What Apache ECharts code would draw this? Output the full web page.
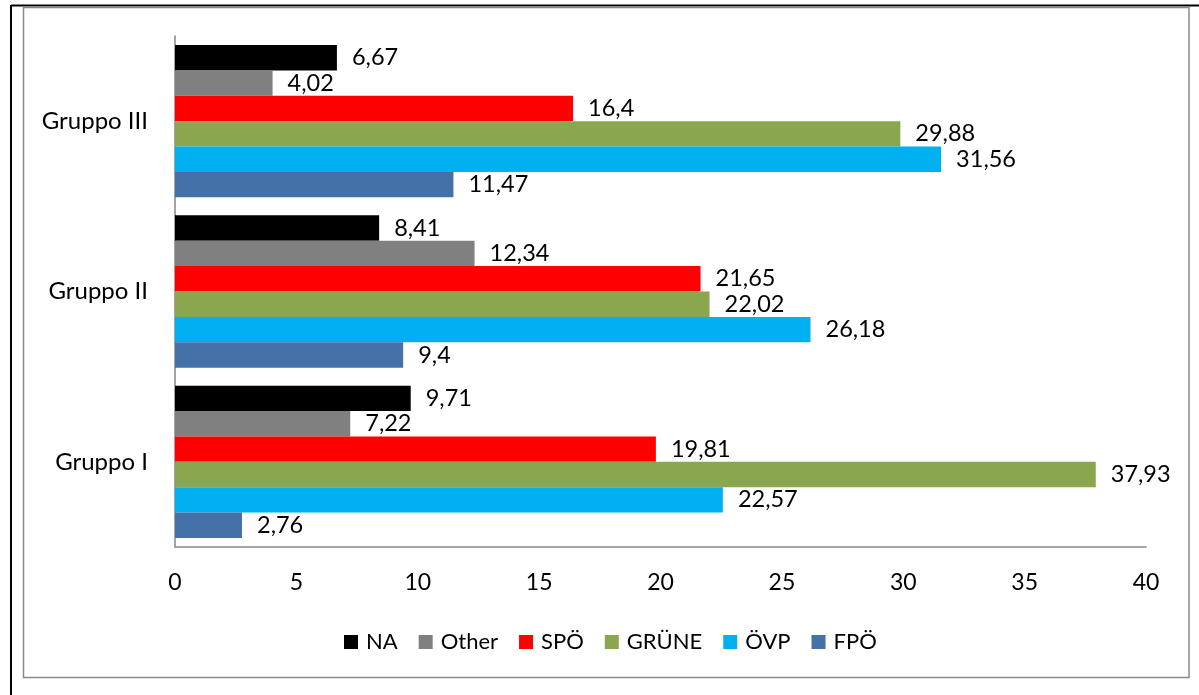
<!DOCTYPE html>
<html>
<head>
<meta charset="utf-8">
<script src="https://cdn.jsdelivr.net/npm/echarts@6/dist/echarts.min.js"></script>
<style>
html,body{margin:0;padding:0;background:#fff;}
#chart{width:1199px;height:695px;}
</style>
</head>
<body>
<div id="chart"></div>
<script>
const categories = ['Gruppo I', 'Gruppo II', 'Gruppo III'];
const seriesNames = ['NA', 'Other', 'SPÖ', 'GRÜNE', 'ÖVP', 'FPÖ'];
const NA    = [9.71, 8.41, 6.67];
const Other = [7.22, 12.34, 4.02];
const SPO   = [19.81, 21.65, 16.4];
const GRUNE = [37.93, 22.02, 29.88];
const OVP   = [22.57, 26.18, 31.56];
const FPO   = [2.76, 9.4, 11.47];
const xTicks = [0, 5, 10, 15, 20, 25, 30, 35, 40];

const colors = {
  'NA': '#000000', 'Other': '#808080', 'SPÖ': '#FF0000',
  'GRÜNE': '#8AA64F', 'ÖVP': '#00B0F0', 'FPÖ': '#4471A7'
};
const dataBy = { 'NA': NA, 'Other': Other, 'SPÖ': SPO, 'GRÜNE': GRUNE, 'ÖVP': OVP, 'FPÖ': FPO };
const FONT = 'Lato';

const chart = echarts.init(document.getElementById('chart'), null, { renderer: 'canvas' });
const series = seriesNames.map(name => ({
  name: name,
  type: 'bar',
  data: dataBy[name],
  barGap: '0%',
  barCategoryGap: '10.6%',
  itemStyle: { color: colors[name] },
  label: {
    show: true, position: 'right', distance: 15,
    color: '#000', fontFamily: FONT, fontSize: 23.5,
    formatter: p => String(p.value).replace('.', ',')
  },
  emphasis: { disabled: true },
  animation: false
}));

chart.setOption({
  animation: false,
  graphic: [
    { type: 'line', shape: { x1: 11, y1: 5.5, x2: 1199, y2: 5.5 }, style: { stroke: '#000', lineWidth: 2 } },
    { type: 'line', shape: { x1: 11, y1: 5, x2: 11, y2: 695 }, style: { stroke: '#000', lineWidth: 2 } },
    { type: 'rect', shape: { x: 23.5, y: 7.5, width: 1165.5, height: 670 }, style: { fill: 'none', stroke: '#898989', lineWidth: 1.5 } }
  ],
  legend: {
    data: seriesNames,
    left: 339, top: 626,
    itemWidth: 14, itemHeight: 14, itemGap: 21,
    icon: 'rect',
    textStyle: { fontFamily: FONT, fontSize: 22, color: '#000', padding: [0, 0, 0, 3] }
  },
  grid: { left: 175, right: 53, top: 36, bottom: 148, containLabel: false },
  xAxis: {
    type: 'value', min: 0, max: 40, interval: 5,
    axisLine: { show: true, lineStyle: { color: '#868686', width: 1.5 } },
    axisTick: { show: false },
    splitLine: { show: false },
    axisLabel: { fontFamily: FONT, fontSize: 23, color: '#000', margin: 24,
      formatter: v => xTicks.includes(v) ? String(v) : '' }
  },
  yAxis: {
    type: 'category', data: categories,
    axisLine: { show: true, lineStyle: { color: '#868686', width: 1.5 } },
    axisTick: { show: false },
    axisLabel: { fontFamily: FONT, fontSize: 24, color: '#000', margin: 27 }
  },
  series: series
});
</script>
</body>
</html>
